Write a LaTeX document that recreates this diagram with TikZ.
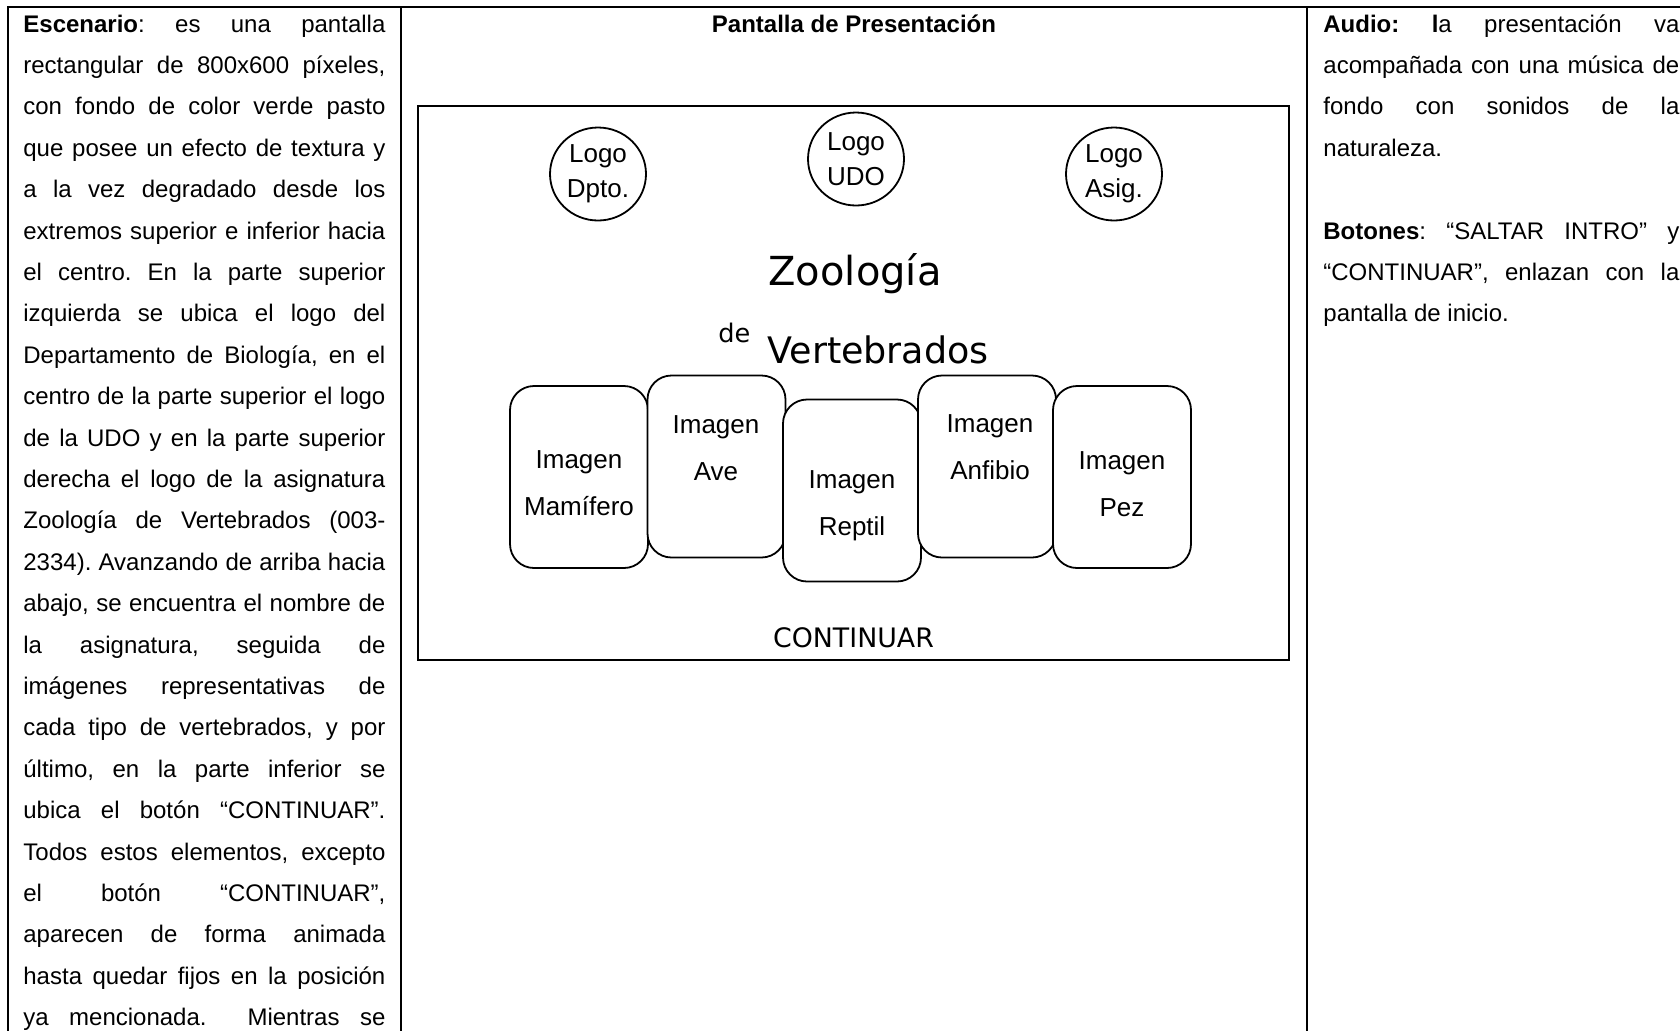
\documentclass[tikz,border=0pt]{standalone}
\usepackage{fontspec}
\setmainfont{Liberation Sans}
\newfontfamily\verdanafont{DejaVu Sans}
\usetikzlibrary{shapes.geometric}
\newcommand\jline[1]{\hbox to\hsize{#1}}
\newcommand\lline[1]{\hbox to\hsize{#1\hfil}}

\begin{document}
\begin{tikzpicture}[x=0.5pt, y=-0.5pt,
                    tabla/.style={line width=1pt},
                    celda/.style={anchor=base west, inner sep=0pt},
                    logo/.style={draw, ellipse, line width=0.9pt, minimum width=48pt,
                                 minimum height=46.5pt, inner sep=0pt, align=center,
                                 font=\fontsize{13}{17.5}\selectfont},
                    imagen/.style={draw, fill=white, line width=0.9pt, rounded corners=12pt,
                                   minimum width=69pt, minimum height=91pt, inner sep=0pt},
                    rotulo/.style={align=center, inner sep=0pt,
                                   font=\fontsize{13}{23.5}\selectfont}]
  \useasboundingbox (0,0) rectangle (1680,1030);

  \draw[tabla] (8,1040) -- (8,7) -- (1700,7);
  \draw[tabla] (401,7) -- (401,1040);
  \draw[tabla] (1307,7) -- (1307,1040);

  \node[celda] (escenario) at (23,32) {\vtop{\hsize=181pt\fontsize{12}{20.7}\selectfont\frenchspacing
    \jline{\textbf{Escenario}: es una pantalla}
    \jline{rectangular de 800x600 píxeles,}
    \jline{con fondo de color verde pasto}
    \jline{que posee un efecto de textura y}
    \jline{a la vez degradado desde los}
    \jline{extremos superior e inferior hacia}
    \jline{el centro. En la parte superior}
    \jline{izquierda se ubica el logo del}
    \jline{Departamento de Biología, en el}
    \jline{centro de la parte superior el logo}
    \jline{de la UDO y en la parte superior}
    \jline{derecha el logo de la asignatura}
    \jline{Zoología de Vertebrados (003-}
    \jline{2334). Avanzando de arriba hacia}
    \jline{abajo, se encuentra el nombre de}
    \jline{la asignatura, seguida de}
    \jline{imágenes representativas de}
    \jline{cada tipo de vertebrados, y por}
    \jline{último, en la parte inferior se}
    \jline{ubica el botón “CONTINUAR”.}
    \jline{Todos estos elementos, excepto}
    \jline{el botón “CONTINUAR”,}
    \jline{aparecen de forma animada}
    \jline{hasta quedar fijos en la posición}
    \jline{ya mencionada.\ \ Mientras se}}};

  \node[inner sep=0pt, anchor=base, font=\bfseries\fontsize{12}{14}\selectfont] (titulo)
    at (854,32) {Pantalla de Presentación};

  \node[draw, line width=1pt, minimum width=435.5pt, minimum height=277pt, inner sep=0pt]
    (pantalla) at (853.5,383) {};

  \node[logo] (dpto) at (598,174) {Logo\\Dpto.};
  \node[logo] (udo) at (856,159) {Logo\\UDO};
  \node[logo] (asig) at (1114,174) {Logo\\Asig.};

  \node[inner sep=0pt, anchor=base, font=\verdanafont\fontsize{20}{24}\selectfont] (zoologia)
    at (855,285) {Zoología};
  \node[inner sep=0pt, anchor=base west, font=\verdanafont\fontsize{12.8}{15}\selectfont] (de)
    at (718,342) {de};
  \node[inner sep=0pt, anchor=base west, font=\verdanafont\fontsize{18.25}{22}\selectfont] (vertebrados)
    at (767,363) {Vertebrados};

  \node[imagen] (mamifero) at (579,477) {};
  \node[imagen] (ave) at (716.5,466.5) {};
  \node[imagen] (reptil) at (852,490.5) {};
  \node[imagen] (anfibio) at (987,466.5) {};
  \node[imagen] (pez) at (1122,477) {};

  \node[rotulo] (t-mamifero) at (579,483.5) {Imagen\\Mamífero};
  \node[rotulo] (t-ave) at (716,448.5) {Imagen\\Ave};
  \node[rotulo] (t-reptil) at (852,505.5) {Imagen\\Reptil};
  \node[rotulo] (t-anfibio) at (990,447) {Imagen\\Anfibio};
  \node[rotulo] (t-pez) at (1122,484.5) {Imagen\\Pez};

  \node[inner sep=0pt, font=\verdanafont\fontsize{13.4}{16}\selectfont] (continuar)
    at (853.5,638) {CONTINUAR};

  \node[celda] (audio) at (1323,32) {\vtop{\hsize=178pt\fontsize{12}{20.7}\selectfont\frenchspacing
    \jline{\textbf{Audio:} \textbf{l}a presentación va}
    \jline{acompañada con una música de}
    \jline{fondo con sonidos de la}
    \lline{naturaleza.}
    \lline{}
    \jline{\textbf{Botones}: “SALTAR INTRO” y}
    \jline{“CONTINUAR”, enlazan con la}
    \lline{pantalla de inicio.}}};
\end{tikzpicture}
\end{document}
